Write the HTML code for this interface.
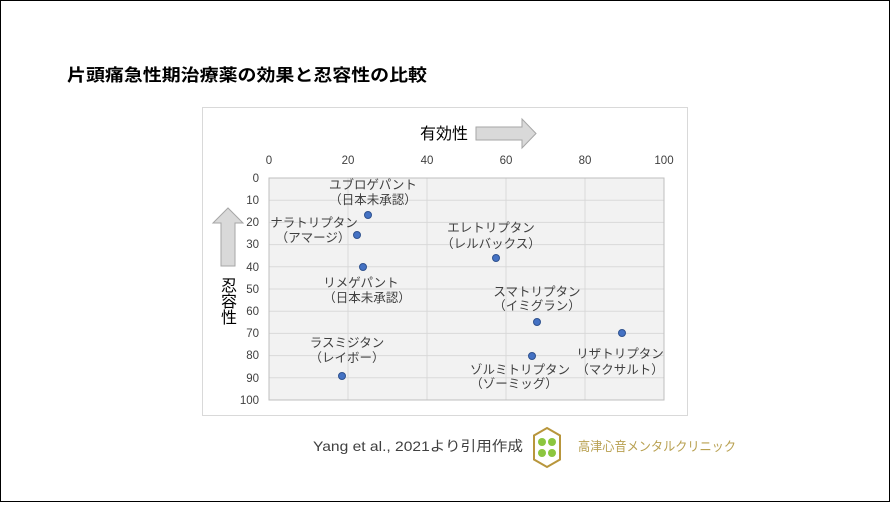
<!DOCTYPE html>
<html><head><meta charset="utf-8"><style>
body{margin:0;width:890px;height:502px;overflow:hidden;background:#fff;}
svg text{font-family:"Liberation Sans","Noto Sans CJK JP",sans-serif;}
</style></head><body>
<svg width="890" height="502" xmlns="http://www.w3.org/2000/svg">
<rect x="0.5" y="0.5" width="889" height="501" fill="#fff" stroke="#000" stroke-width="1"/>
<text x="67" y="81" font-size="17" font-weight="bold" fill="#000" textLength="360" lengthAdjust="spacingAndGlyphs">片頭痛急性期治療薬の効果と忍容性の比較</text>
<rect x="202.5" y="107.5" width="485" height="308" fill="#fff" stroke="#d9d9d9"/>
<rect x="269" y="178" width="395" height="222" fill="#f2f2f2" stroke="#bfbfbf"/>
<g stroke="#d9d9d9" stroke-width="1">
<line x1="348" y1="178" x2="348" y2="400"/><line x1="427" y1="178" x2="427" y2="400"/><line x1="506" y1="178" x2="506" y2="400"/><line x1="585" y1="178" x2="585" y2="400"/>
<line x1="269" y1="200.2" x2="664" y2="200.2"/><line x1="269" y1="222.4" x2="664" y2="222.4"/><line x1="269" y1="244.6" x2="664" y2="244.6"/><line x1="269" y1="266.8" x2="664" y2="266.8"/><line x1="269" y1="289" x2="664" y2="289"/><line x1="269" y1="311.2" x2="664" y2="311.2"/><line x1="269" y1="333.4" x2="664" y2="333.4"/><line x1="269" y1="355.6" x2="664" y2="355.6"/><line x1="269" y1="377.8" x2="664" y2="377.8"/>
</g>
<rect x="269" y="178" width="395" height="222" fill="none" stroke="#bfbfbf"/>
<g font-size="11.5" fill="#404040" text-anchor="middle">
<text x="269" y="164">0</text><text x="348" y="164">20</text><text x="427" y="164">40</text><text x="506" y="164">60</text><text x="585" y="164">80</text><text x="664" y="164">100</text>
</g>
<g font-size="11.5" fill="#404040" text-anchor="end">
<text x="259" y="182">0</text><text x="259" y="204">10</text><text x="259" y="226">20</text><text x="259" y="248">30</text><text x="259" y="271">40</text><text x="259" y="293">50</text><text x="259" y="315">60</text><text x="259" y="337">70</text><text x="259" y="359">80</text><text x="259" y="382">90</text><text x="259" y="404">100</text>
</g>
<polygon points="476,127 522,127 522,119 536,133.5 522,148 522,140 476,140" fill="#d9d9d9" stroke="#a6a6a6"/>
<text x="420" y="139" font-size="16" fill="#000">有効性</text>
<polygon points="221,266 221,223 213,223 228,208 243,223 235,223 235,266" fill="#d9d9d9" stroke="#a6a6a6"/>
<g font-size="16" fill="#000" text-anchor="middle"><text x="229" y="291">忍</text><text x="229" y="307">容</text><text x="229" y="323">性</text></g>
<g fill="#4472c4" stroke="#2f528f" stroke-width="1">
<circle cx="368" cy="215" r="3.5"/><circle cx="357" cy="235" r="3.5"/><circle cx="363" cy="267" r="3.5"/><circle cx="496" cy="258" r="3.5"/><circle cx="537" cy="322" r="3.5"/><circle cx="622" cy="333" r="3.5"/><circle cx="532" cy="356" r="3.5"/><circle cx="342" cy="376" r="3.5"/>
</g>
<g font-size="12.5" fill="#404040" text-anchor="middle">
<text x="373" y="189">ユブロゲパント</text><text x="373" y="204">（日本未承認）</text>
<text x="314" y="227">ナラトリプタン</text><text x="313" y="242">（アマージ）</text>
<text x="491" y="232">エレトリプタン</text><text x="491" y="248">（レルバックス）</text>
<text x="361" y="287">リメゲパント</text><text x="367" y="302">（日本未承認）</text>
<text x="537" y="296">スマトリプタン</text><text x="537" y="310">（イミグラン）</text>
<text x="347" y="347">ラスミジタン</text><text x="347" y="362">（レイボー）</text>
<text x="620" y="358">リザトリプタン</text><text x="620" y="374">（マクサルト）</text>
<text x="520" y="374">ゾルミトリプタン</text><text x="514" y="388">（ゾーミッグ）</text>
</g>
<text x="313" y="451" font-size="14" fill="#404040" textLength="210" lengthAdjust="spacingAndGlyphs">Yang et al., 2021より引用作成</text>
<polygon points="547,428 560,435.5 560,459.5 547,467 534,459.5 534,435.5" fill="#fff" stroke="#b8963c" stroke-width="2"/>
<g fill="#8cc63f"><circle cx="542" cy="442" r="4"/><circle cx="552" cy="442" r="4"/><circle cx="542" cy="453" r="4"/><circle cx="552" cy="453" r="4"/></g>
<text x="578" y="451" font-size="13" fill="#b8a050" textLength="158" lengthAdjust="spacingAndGlyphs">高津心音メンタルクリニック</text>
</svg>
</body></html>
